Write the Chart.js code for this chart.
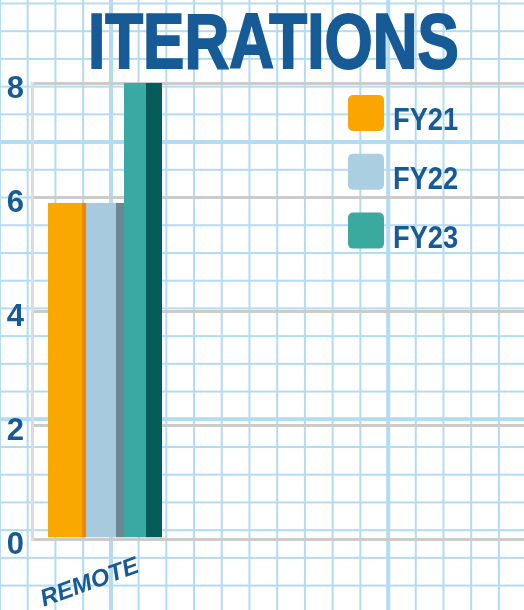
<!DOCTYPE html>
<html>
<head>
<meta charset="utf-8">
<script src="https://cdn.jsdelivr.net/npm/chart.js@4/dist/chart.umd.min.js"></script>
<style>
    html, body {
        margin: 0;
        padding: 0;
        width: 524px;
        height: 610px;
        overflow: hidden;
    }
    body {
        position: relative;
        background-color: #ffffff;
        /* graph paper: thin lines every cell, heavy line every 10 cells */
        background-image:
            linear-gradient(to right, #b3dbf2 4px, transparent 4px),
            linear-gradient(to bottom, #b3dbf2 4px, transparent 4px),
            linear-gradient(to right, #b3dbf2 2px, transparent 2px),
            linear-gradient(to bottom, #b3dbf2 2px, transparent 2px);
        background-size: 277.2px 277.2px, 277.2px 277.2px, 27.72px 27.72px, 27.72px 27.72px;
        background-position: 109px 0, 0 140px, -1px 0, 0 2.5px;
    }
    #title {
        position: absolute;
        left: 88px;
        top: 3px;
        margin: 0;
        font: bold 77px "Liberation Sans", Arial, sans-serif;
        line-height: 77px;
        color: #165a96;
        -webkit-text-stroke: 2px #165a96;
        white-space: nowrap;
        transform: scaleX(0.805);
        transform-origin: left top;
    }
    #chart {
        position: absolute;
        left: 0;
        top: 0;
    }
</style>
</head>
<body>
<h1 id="title">ITERATIONS</h1>
<canvas id="chart" width="616" height="610" style="width:616px;height:610px"></canvas>
<script>
// Chart data
const categories = ['REMOTE', '', '', ''];
const seriesLabels = ['FY21', 'FY22', 'FY23'];
const fy21 = [5.9];
const fy22 = [5.9];
const fy23 = [8];
const yTicks = [0, 2, 4, 6, 8];

const inkBlue = '#165a96';

// front colour, side colour, side width, legend swatch colour
const barStyles = [
    { face: '#f9a800', side: '#ef8700', sideWidth: 4, swatch: '#fba600' },
    { face: '#a8cade', side: '#6c8792', sideWidth: 8, swatch: '#a9cfe0' },
    { face: '#3aa9a3', side: '#065b5b', sideWidth: 16, swatch: '#3aaa9f' }
];

// legend drawn inside the plot, top right
const paperLegend = {
    id: 'paperLegend',
    afterDraw(chart) {
        const ctx = chart.ctx;
        chart.data.datasets.forEach((ds, i) => {
            const top = 95 + i * 58.8;
            ctx.save();
            ctx.fillStyle = ds.swatch;
            ctx.beginPath();
            ctx.roundRect(348, top, 36, 36, 5);
            ctx.fill();
            ctx.fillStyle = inkBlue;
            ctx.font = 'bold 31px "Liberation Sans", Arial, sans-serif';
            ctx.textBaseline = 'alphabetic';
            ctx.translate(393, top + 35);
            ctx.scale(0.88, 1);
            ctx.fillText(ds.label, 0, 0);
            ctx.restore();
        });
    }
};

const seriesData = [fy21, fy22, fy23];

new Chart(document.getElementById('chart'), {
    type: 'bar',
    data: {
        labels: categories,
        datasets: seriesLabels.map((label, i) => ({
            label: label,
            data: seriesData[i],
            backgroundColor: barStyles[i].face,
            borderColor: barStyles[i].side,
            borderWidth: { top: 0, left: 0, bottom: 0, right: barStyles[i].sideWidth },
            borderSkipped: false,
            swatch: barStyles[i].swatch
        }))
    },
    options: {
        responsive: false,
        animation: false,
        categoryPercentage: 0.781,
        barPercentage: 1,
        layout: {
            padding: { top: 83, left: 0, right: 0, bottom: 0 }
        },
        scales: {
            x: {
                offset: true,
                grid: { display: false },
                border: { display: false },
                ticks: {
                    autoSkip: false,
                    minRotation: 20,
                    maxRotation: 20,
                    labelOffset: 33,
                    padding: 5,
                    color: inkBlue,
                    font: { family: '"Liberation Sans", Arial, sans-serif', size: 24, weight: 'bold', style: 'italic' }
                },
                afterFit(scale) {
                    scale.height = 71;
                    // rotated label sits inside the plot, no extra side room needed
                    scale.paddingLeft = 0;
                    scale.paddingRight = 0;
                }
            },
            y: {
                min: 0,
                max: 8,
                afterBuildTicks(scale) {
                    scale.ticks = yTicks.map(v => ({ value: v }));
                },
                grid: {
                    color: '#cbcbcb',
                    lineWidth: 3,
                    drawTicks: false
                },
                border: {
                    display: true,
                    color: '#dcdcdc',
                    width: 3
                },
                ticks: {
                    padding: 8,
                    labelOffset: 6,
                    color: inkBlue,
                    font: { family: '"Liberation Sans", Arial, sans-serif', size: 31, weight: 'bold' }
                },
                afterFit(scale) {
                    scale.width = 32;
                }
            }
        },
        plugins: {
            legend: { display: false },
            title: { display: false },
            tooltip: { enabled: false }
        }
    },
    plugins: [paperLegend]
});
</script>
</body>
</html>
